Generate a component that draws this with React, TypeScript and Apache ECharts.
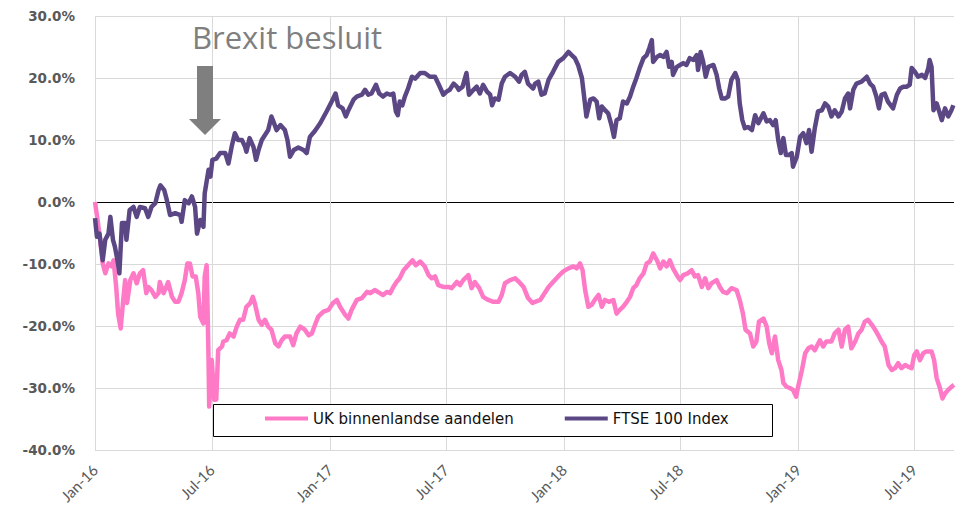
import React, { useEffect, useRef } from 'react';
import * as echarts from 'echarts';

// Axis ticks (every six months) and their labels
const tickDates: [number, number][] = [
  [2016, 0], [2016, 6], [2017, 0], [2017, 6], [2018, 0], [2018, 6], [2019, 0], [2019, 6],
];
const tickLabels = ['Jan-16', 'Jul-16', 'Jan-17', 'Jul-17', 'Jan-18', 'Jul-18', 'Jan-19', 'Jul-19'];
const yTicks = [-40, -30, -20, -10, 0, 10, 20, 30];
const seriesNames = ['UK binnenlandse aandelen', 'FTSE 100 Index'];
const axisEndDay = 1339; // days after 1 Jan 2016

// [days after 1 Jan 2016, return in %]
const ukSeries: [number, number][] = [
  [0, 0], [4, -2.9], [8, -6.1], [12, -9.9], [16, -11.5], [21, -9.9], [26, -10.4], [29, -9.4], [33, -13.7], [36, -18.0],
  [40, -20.4], [44, -15.8], [47, -12.6], [50, -16.3], [55, -12.6], [60, -11.5], [65, -13.1], [70, -11.5], [75, -11.0], [80, -14.7],
  [83, -13.7], [88, -14.2], [94, -15.3], [99, -14.7], [101, -12.9], [107, -14.7], [111, -13.7], [114, -12.9], [120, -15.3], [125, -16.1],
  [130, -16.1], [135, -14.7], [140, -12.6], [144, -9.9], [148, -9.9], [152, -12.0], [157, -12.0], [161, -14.7], [164, -18.5], [169, -19.6],
  [171, -12.0], [174, -10.2], [175, -14.7], [177, -25.5], [178, -33.0], [182, -25.5], [186, -31.9], [189, -31.9], [192, -23.9], [198, -23.3],
  [200, -22.5], [205, -22.3], [210, -21.2], [216, -21.7], [221, -20.1], [226, -19.0], [231, -19.0], [236, -16.9], [242, -16.3], [246, -15.3],
  [249, -16.3], [255, -19.0], [260, -19.8], [265, -19.0], [270, -20.1], [275, -20.6], [281, -22.8], [286, -23.3], [291, -22.3], [296, -21.7],
  [304, -21.7], [309, -23.1], [314, -21.2], [320, -20.1], [327, -20.6], [333, -21.5], [338, -21.2], [343, -19.8], [348, -18.5], [356, -17.7],
  [364, -17.4], [371, -16.3], [377, -15.8], [382, -16.9], [390, -18.2], [395, -18.8], [400, -17.4], [408, -15.8], [416, -15.5], [424, -14.5],
  [429, -14.7], [436, -14.2], [444, -14.7], [449, -15.0], [455, -14.5], [460, -14.7], [465, -13.7], [470, -12.9], [475, -12.3], [481, -11.0],
  [488, -10.2], [495, -9.4], [500, -10.2], [507, -9.6], [514, -10.4], [520, -11.8], [525, -12.3], [530, -12.0], [535, -13.4], [543, -13.7],
  [551, -13.7], [556, -13.9], [564, -12.9], [569, -13.4], [574, -12.6], [582, -11.8], [587, -13.9], [592, -12.9], [599, -13.9], [605, -15.3],
  [613, -15.8], [621, -16.1], [629, -16.1], [634, -15.0], [639, -13.1], [647, -12.6], [655, -12.3], [661, -12.9], [668, -13.7], [675, -15.5],
  [682, -16.3], [686, -16.1], [694, -15.8], [699, -15.0], [707, -13.7], [714, -12.9], [722, -12.0], [730, -11.2], [738, -10.7], [746, -10.4],
  [751, -10.7], [756, -9.9], [760, -11.0], [764, -14.2], [769, -16.9], [774, -16.6], [779, -15.8], [785, -15.0], [790, -16.9], [795, -15.8],
  [801, -16.1], [808, -15.8], [813, -18.0], [818, -17.4], [823, -16.9], [829, -16.1], [834, -15.3], [839, -13.9], [844, -13.4], [849, -12.3],
  [855, -11.5], [860, -9.9], [865, -9.6], [870, -8.3], [876, -9.4], [881, -10.7], [886, -9.6], [891, -10.4], [896, -9.4], [901, -10.7],
  [907, -11.8], [912, -12.6], [917, -11.8], [924, -11.5], [930, -11.0], [935, -12.0], [940, -11.8], [946, -13.7], [951, -12.3], [956, -13.9],
  [961, -13.1], [969, -12.6], [974, -13.7], [979, -14.5], [985, -14.7], [992, -13.9], [1000, -14.2], [1005, -15.8], [1010, -18.0], [1014, -20.6],
  [1021, -21.2], [1026, -23.3], [1031, -22.5], [1035, -19.3], [1042, -18.8], [1047, -20.1], [1051, -22.8], [1055, -24.4], [1060, -21.7], [1065, -25.5],
  [1070, -27.1], [1073, -29.2], [1078, -29.8], [1083, -30.0], [1088, -30.3], [1093, -31.4], [1096, -29.8], [1102, -27.1], [1107, -24.4], [1112, -23.6],
  [1117, -23.3], [1122, -23.9], [1130, -22.3], [1135, -23.3], [1140, -22.5], [1148, -22.5], [1153, -21.2], [1159, -20.6], [1164, -23.3], [1169, -20.6],
  [1174, -20.1], [1179, -23.6], [1185, -22.5], [1190, -21.2], [1195, -20.6], [1200, -19.3], [1205, -19.0], [1211, -19.8], [1216, -20.6], [1221, -21.5],
  [1226, -22.5], [1231, -23.3], [1237, -26.3], [1242, -27.1], [1247, -26.8], [1252, -26.0], [1257, -26.8], [1263, -26.3], [1268, -26.6], [1273, -26.8],
  [1277, -24.7], [1281, -24.1], [1286, -25.5], [1291, -24.4], [1296, -24.1], [1304, -24.1], [1308, -25.5], [1312, -28.4], [1317, -30.0], [1321, -31.7],
  [1325, -30.9], [1330, -30.3], [1335, -29.8], [1339, -29.5],
];

const ftseSeries: [number, number][] = [
  [0, -2.6], [3, -5.6], [7, -5.1], [12, -9.4], [16, -6.1], [21, -5.1], [24, -2.4], [28, -6.1], [31, -7.2], [35, -9.4],
  [38, -11.5], [42, -3.4], [47, -3.4], [49, -6.1], [54, -1.3], [60, -0.8], [65, -2.4], [70, -0.8], [78, -1.0], [83, -2.4],
  [88, -0.8], [94, -0.2], [99, 1.9], [102, 2.7], [108, 1.9], [112, 0.3], [117, -2.1], [125, -1.8], [133, -2.1], [135, -3.2],
  [140, 0.3], [146, -0.2], [151, 0.9], [156, -0.8], [159, -5.1], [164, -2.9], [169, -4.0], [171, 1.4], [177, 5.2], [180, 4.1],
  [183, 6.8], [189, 7.0], [195, 7.9], [203, 7.9], [208, 6.2], [213, 8.9], [218, 11.1], [223, 10.0], [229, 10.0], [234, 8.9],
  [236, 8.1], [241, 10.3], [247, 8.9], [251, 6.8], [255, 8.4], [260, 10.0], [265, 10.8], [270, 11.6], [275, 13.8], [278, 13.0],
  [283, 11.6], [289, 12.4], [296, 11.6], [300, 10.0], [304, 7.3], [310, 8.4], [317, 8.8], [325, 8.4], [330, 7.9], [335, 10.5],
  [343, 11.5], [351, 12.7], [361, 14.6], [369, 16.2], [375, 17.5], [379, 15.6], [386, 15.1], [391, 13.8], [395, 14.8], [403, 16.5],
  [408, 17.0], [416, 17.3], [421, 18.1], [426, 17.3], [431, 17.5], [438, 18.9], [443, 17.5], [449, 17.0], [455, 17.5], [460, 17.3],
  [465, 17.5], [469, 14.6], [472, 14.0], [475, 16.2], [479, 15.6], [483, 17.0], [488, 18.3], [494, 20.2], [499, 19.9], [507, 20.8],
  [514, 20.8], [522, 20.2], [530, 20.2], [536, 18.9], [543, 17.3], [548, 17.8], [553, 18.1], [559, 19.1], [564, 18.6], [567, 18.1],
  [573, 18.6], [579, 20.8], [583, 17.3], [590, 18.1], [595, 18.6], [600, 17.5], [605, 18.9], [611, 17.8], [616, 17.3], [619, 15.6],
  [623, 16.7], [629, 16.5], [634, 19.1], [639, 20.2], [647, 20.8], [655, 20.2], [661, 19.4], [665, 20.5], [670, 21.0], [675, 19.1],
  [683, 18.3], [686, 19.1], [691, 19.4], [696, 17.3], [701, 17.5], [707, 19.7], [714, 21.0], [722, 22.6], [730, 23.2], [738, 24.2],
  [743, 23.7], [748, 23.2], [753, 22.1], [759, 20.0], [763, 16.5], [766, 13.8], [772, 16.5], [777, 16.7], [782, 16.2], [786, 13.5],
  [790, 15.4], [795, 14.8], [800, 14.3], [805, 12.4], [809, 10.5], [813, 13.2], [818, 13.5], [823, 16.2], [829, 15.9], [834, 17.0],
  [839, 18.6], [844, 20.0], [849, 21.6], [855, 23.2], [860, 23.7], [864, 24.8], [868, 26.1], [870, 22.6], [876, 23.4], [881, 23.7],
  [886, 23.4], [891, 24.2], [895, 21.8], [899, 22.6], [901, 20.5], [907, 21.8], [912, 22.1], [917, 22.4], [922, 22.1], [927, 23.2],
  [933, 22.9], [938, 23.7], [940, 21.3], [944, 24.2], [948, 22.6], [952, 20.2], [956, 21.8], [964, 22.1], [969, 20.5], [973, 18.3],
  [977, 16.7], [982, 16.7], [987, 17.0], [992, 19.7], [998, 20.8], [1002, 19.7], [1005, 15.9], [1009, 13.2], [1013, 11.9], [1018, 12.1],
  [1024, 11.6], [1029, 14.0], [1034, 12.7], [1042, 14.3], [1047, 13.0], [1052, 13.2], [1057, 12.4], [1061, 13.2], [1065, 10.0], [1069, 7.9],
  [1073, 10.3], [1077, 7.6], [1082, 7.6], [1086, 7.9], [1088, 5.7], [1094, 7.3], [1099, 10.5], [1104, 11.1], [1109, 9.5], [1113, 11.6],
  [1117, 8.1], [1122, 11.9], [1127, 14.6], [1133, 14.8], [1138, 15.9], [1143, 15.4], [1148, 13.8], [1153, 14.8], [1159, 13.8], [1164, 14.6],
  [1169, 16.7], [1174, 17.5], [1177, 15.1], [1182, 18.1], [1187, 19.1], [1195, 19.4], [1203, 20.2], [1208, 19.1], [1213, 18.6], [1218, 17.0],
  [1222, 15.1], [1226, 17.3], [1231, 17.5], [1236, 16.2], [1244, 15.1], [1250, 17.3], [1255, 18.3], [1260, 18.6], [1265, 18.6], [1270, 18.9],
  [1273, 21.6], [1278, 21.0], [1283, 20.2], [1289, 20.5], [1294, 20.0], [1299, 21.6], [1301, 22.9], [1304, 21.8], [1307, 14.8], [1312, 15.9],
  [1316, 14.6], [1320, 13.2], [1325, 15.1], [1330, 13.8], [1335, 14.8], [1338, 15.6],
];

const DAY = 86400000;
const origin = Date.UTC(2016, 0, 1);
const tickDays = tickDates.map(([y, m]) => Math.round((Date.UTC(y, m, 1) - origin) / DAY));

export default function App() {
  const ref = useRef<HTMLDivElement>(null);

  useEffect(() => {
    document.body.style.margin = '0';
    if (!ref.current) return;
    const chart = echarts.init(ref.current, undefined, { renderer: 'svg' });
    const grey = '#595959';
    const grid = '#d9d9d9';

    chart.setOption({
      animation: false,
      backgroundColor: '#ffffff',
      grid: { left: 95, right: 6, top: 16, bottom: 56, containLabel: false, outerBoundsMode: 'none' },
      xAxis: {
        type: 'value',
        min: 0,
        max: axisEndDay,
        axisLine: { show: false },
        axisTick: { show: false, customValues: tickDays },
        splitLine: { show: true, lineStyle: { color: grid, width: 1 } },
        axisLabel: {
          customValues: tickDays,
          rotate: 45,
          margin: 17,
          color: grey,
          fontFamily: 'Lato',
          fontSize: 15,
          formatter: (val: number) => {
            const i = tickDays.indexOf(Math.round(val));
            return i >= 0 ? tickLabels[i] : '';
          },
        },
      },
      yAxis: {
        type: 'value',
        min: -40,
        max: 30,
        interval: 10,
        axisLine: { show: false },
        axisTick: { show: false },
        splitLine: {
          show: true,
          lineStyle: {
            color: yTicks.map((t) => (t === 0 ? '#000000' : grid)),
            width: 1,
          },
        },
        axisLabel: {
          margin: 20,
          color: grey,
          fontFamily: 'DejaVu Sans',
          fontWeight: 'bold',
          fontSize: 13.5,
          formatter: (v: number) => `${v.toFixed(1)}%`,
        },
      },
      legend: {
        data: seriesNames,
        left: 265,
        top: 411,
        padding: 0,
        itemGap: 51,
        itemWidth: 43,
        itemHeight: 4,
        icon: 'rect',
        z: 20,
        textStyle: { fontFamily: 'DejaVu Sans', fontSize: 15, color: '#111111' },
      },
      graphic: [
        {
          type: 'rect',
          z: 15,
          shape: { x: 213.5, y: 404.5, width: 559, height: 32 },
          style: { fill: '#ffffff', stroke: '#000000', lineWidth: 1 },
        },
        {
          type: 'text',
          z: 15,
          x: 192,
          y: 37,
          style: {
            text: 'Brexit besluit',
            fill: '#7f7f7f',
            font: '31px "Open Sans"',
            verticalAlign: 'middle',
            align: 'left',
          },
        },
        {
          type: 'polygon',
          z: 15,
          shape: {
            points: [[197, 66], [213, 66], [213, 119], [221, 119], [205, 135], [189, 119], [197, 119]],
          },
          style: { fill: '#7f7f7f' },
        },
      ],
      series: [
        {
          name: seriesNames[0],
          type: 'line',
          showSymbol: false,
          symbol: 'none',
          color: '#ff7ac6',
          lineStyle: { width: 4.5, color: '#ff7ac6', join: 'round' },
          data: ukSeries,
          z: 2,
        },
        {
          name: seriesNames[1],
          type: 'line',
          showSymbol: false,
          symbol: 'none',
          color: '#5c4785',
          lineStyle: { width: 4.5, color: '#5c4785', join: 'round' },
          data: ftseSeries,
          z: 3,
        },
      ],
    });

    return () => chart.dispose();
  }, []);

  return <div ref={ref} style={{ width: 960, height: 506 }} />;
}
